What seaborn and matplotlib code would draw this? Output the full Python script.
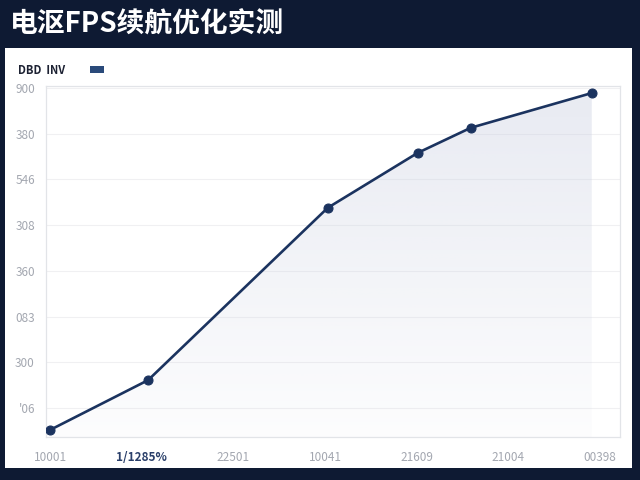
import numpy as np
import matplotlib
matplotlib.use("Agg")
import matplotlib.pyplot as plt
from matplotlib.patches import Rectangle, Polygon, Patch
import seaborn as sns
import pandas as pd

# data
x_pos = [0.0, 1.07, 3.03, 4.01, 4.59, 5.91]
values = [52, 161, 538, 658, 713, 789]
x_ticks = [0, 1, 2, 3, 4, 5, 6]
x_labels = ['10001', '1/1285%', '22501', '10041', '21609', '21004', '00398']
y_ticks = [100, 200, 300, 400, 500, 600, 700, 800]
y_labels = ["'06", '300', '083', '360', '308', '546', '380', '900']
series_name = 'DBD  INV'
title = '电沤FPS续航优化实测'

navy_bg = '#0e1a33'
line_col = '#1b335f'

sns.set_style("white")
plt.rcParams['font.family'] = ['Noto Sans CJK SC', 'DejaVu Sans']

df = pd.DataFrame({'x': x_pos, 'y': values})

fig = plt.figure(figsize=(6.4, 4.8), dpi=100, facecolor=navy_bg)
# white card behind the axes
card = Rectangle((5 / 640, 12 / 480), 627 / 640, 420 / 480,
                 transform=fig.transFigure, facecolor='white',
                 edgecolor='none', zorder=-5)
fig.patches.append(card)
fig.text(10 / 640, 1 - 25 / 480, title, color='white', fontsize=20,
         fontweight='heavy', va='center', ha='left')

ax = fig.add_axes([46 / 640, 43 / 480, 574 / 640, 351 / 480])
ax.set_zorder(1)
ax.set_facecolor('white')
ax.set_xlim(-0.044, 6.218)
ax.set_ylim(36.6, 804.4)

# gradient fill under the line
verts = [(x_pos[0], 36.6)] + list(zip(x_pos, values)) + [(x_pos[-1], 36.6)]
poly = Polygon(verts, closed=True, facecolor='none', edgecolor='none')
ax.add_patch(poly)
grad = np.zeros((256, 1, 4))
grad[:, 0, 0] = 0.80
grad[:, 0, 1] = 0.82
grad[:, 0, 2] = 0.89
grad[:, 0, 3] = np.linspace(0.05, 0.45, 256)
img = ax.imshow(grad, extent=[x_pos[0], x_pos[-1], 36.6, 804.4],
                origin='lower', aspect='auto', zorder=1)
img.set_clip_path(poly)

sns.lineplot(data=df, x='x', y='y', ax=ax, color=line_col, linewidth=1.9,
             marker='o', markersize=6.5, markeredgecolor=line_col, zorder=3)

ax.set_xticks(x_ticks)
ax.set_xticklabels(x_labels)
ax.set_yticks(y_ticks)
ax.set_yticklabels(y_labels)
ax.tick_params(axis='both', length=0, labelsize=8.5, labelcolor='#a3a7b0')
ax.tick_params(axis='x', pad=10)
ax.tick_params(axis='y', pad=8)
lab = ax.get_xticklabels()[1]
lab.set_color('#2a3f6a')
lab.set_fontweight('bold')
lab.set_fontstyle('italic')
ax.grid(axis='y', color='#f0f0f2', linewidth=0.8)
ax.set_axisbelow(True)
for s in ax.spines.values():
    s.set_color('#e2e4e8')
    s.set_linewidth(0.9)
ax.set_xlabel('')
ax.set_ylabel('')

leg = fig.legend(handles=[Patch(facecolor='#2a4a7a', edgecolor='none', label=series_name)],
                 loc='center left', bbox_to_anchor=(8 / 640, 1 - 70 / 480),
                 markerfirst=False, frameon=False, handlelength=1.3,
                 handleheight=0.5, handletextpad=2.2, fontsize=8)
for t in leg.get_texts():
    t.set_fontweight('bold')
    t.set_color('#1d2233')

fig.savefig('out.png', dpi=100, facecolor=navy_bg)
